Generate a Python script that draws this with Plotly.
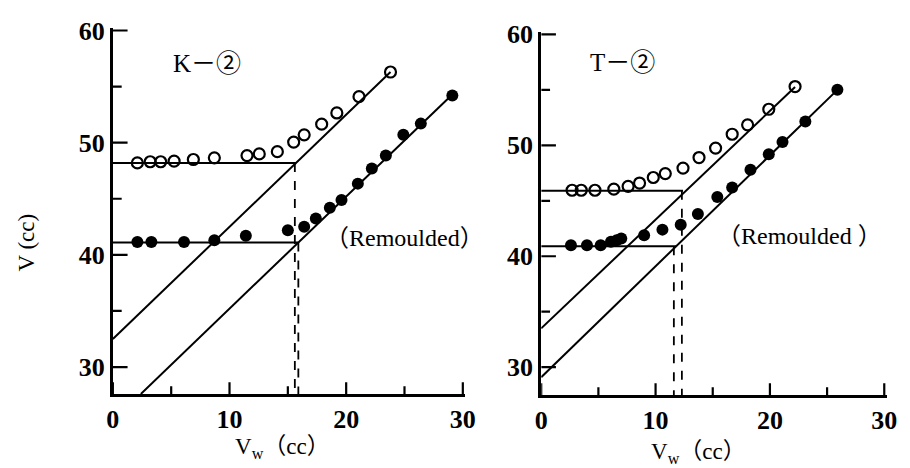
import plotly.graph_objects as go

# ---------------- data ----------------
# K-2 panel
k_open_x = [2.1, 3.2, 4.1, 5.25, 6.9, 8.7, 11.5, 12.55, 14.1, 15.5, 16.4, 17.9, 19.2, 21.1, 23.8]
k_open_y = [48.2, 48.3, 48.3, 48.35, 48.5, 48.65, 48.85, 49.0, 49.2, 50.05, 50.7, 51.65, 52.65, 54.1, 56.3]
k_fill_x = [2.1, 3.3, 6.1, 8.7, 11.4, 15.0, 16.4, 17.4, 18.6, 19.6, 21.0, 22.2, 23.4, 24.9, 26.4, 29.1]
k_fill_y = [41.15, 41.15, 41.15, 41.3, 41.7, 42.2, 42.5, 43.25, 44.2, 44.9, 46.35, 47.7, 48.85, 50.7, 51.7, 54.2]

# fitted lines (V = a + b*Vw) and horizontal levels
k_upper_level, k_upper_end = 48.2, 15.7
k_lower_level, k_lower_end = 41.1, 15.9
k_upper_fit = dict(a=32.5, b=1.0, x0=0.0, x1=23.8)
k_lower_fit = dict(a=25.2, b=1.0, x0=2.4, x1=29.3)
k_dash_x = [15.6, 15.9]
k_dash_top = [48.2, 41.1]

# T-2 panel
t_open_x = [2.7, 3.5, 4.7, 6.35, 7.6, 8.6, 9.8, 10.85, 12.4, 13.8, 15.25, 16.7, 18.05, 19.9, 22.2]
t_open_y = [45.95, 45.95, 45.95, 46.05, 46.3, 46.6, 47.1, 47.45, 47.95, 48.9, 49.75, 51.0, 51.85, 53.25, 55.3]
t_fill_x = [2.6, 4.0, 5.2, 6.1, 6.6, 7.0, 9.0, 10.6, 12.2, 13.7, 15.4, 16.7, 18.3, 19.9, 21.1, 23.1, 25.9]
t_fill_y = [41.0, 41.0, 41.0, 41.3, 41.45, 41.6, 41.9, 42.4, 42.85, 43.8, 45.35, 46.2, 47.8, 49.2, 50.3, 52.15, 55.0]

t_upper_level, t_upper_end = 45.9, 12.4
t_lower_level, t_lower_end = 40.9, 11.8
t_upper_fit = dict(a=33.5, b=0.98, x0=0.0, x1=22.2)
t_lower_fit = dict(a=29.1, b=1.0, x0=0.0, x1=25.9)
t_dash_x = [12.3, 11.6]
t_dash_top = [45.9, 40.9]

x_range = [0, 30.2]
y_range_k = [27.6, 60.2]
y_range_t = [27.5, 60.2]
x_major = [0, 10, 20, 30]
x_minor = [5, 15, 25]
y_major = [30, 40, 50, 60]
y_minor = [35, 45, 55]

# pixel layout
W, H = 910, 468
L_px_x, L_px_y = (108, 467.4), (16.7, 392)
R_px_x, R_px_y = (545, 897.3), (20.7, 393)

# ---------------- figure ----------------
fig = go.Figure()
LINE = dict(color="black", width=2)
DASH = dict(color="black", width=1.8, dash="dash")
TICK = dict(color="black", width=2.2)


def tick_traces(xa, ya, xr, yr, px_x, px_y):
    # convert tick lengths from pixels to data units for this panel
    ux = (xr[1] - xr[0]) / (px_x[1] - px_x[0])
    uy = (yr[1] - yr[0]) / (px_y[1] - px_y[0])
    xs, ys = [], []
    for vals, ln in ((x_major, 12), (x_minor, 8)):
        for v in vals:
            xs += [v, v, None]
            ys += [yr[0], yr[0] + ln * uy, None]
    for vals, ln in ((y_major, 15), (y_minor, 9)):
        for v in vals:
            xs += [xr[0], xr[0] + ln * ux, None]
            ys += [v, v, None]
    fig.add_trace(go.Scatter(x=xs, y=ys, mode="lines", line=TICK,
                             xaxis=xa, yaxis=ya, showlegend=False, hoverinfo="skip"))


def panel(xa, ya, ox, oy, fx, fy, ulev, uend, llev, lend, ufit, lfit, dx, dtop, ymin):
    fig.add_trace(go.Scatter(x=[0, uend], y=[ulev, ulev], mode="lines", line=LINE,
                             xaxis=xa, yaxis=ya, showlegend=False))
    fig.add_trace(go.Scatter(x=[0, lend], y=[llev, llev], mode="lines", line=LINE,
                             xaxis=xa, yaxis=ya, showlegend=False))
    for f in (ufit, lfit):
        xs = [f["x0"], f["x1"]]
        ys = [f["a"] + f["b"] * v for v in xs]
        fig.add_trace(go.Scatter(x=xs, y=ys, mode="lines", line=LINE,
                                 xaxis=xa, yaxis=ya, showlegend=False))
    for xv, yt in zip(dx, dtop):
        fig.add_trace(go.Scatter(x=[xv, xv], y=[yt, ymin], mode="lines", line=DASH,
                                 xaxis=xa, yaxis=ya, showlegend=False))
    fig.add_trace(go.Scatter(x=ox, y=oy, mode="markers",
                             marker=dict(symbol="circle-open", size=11, color="black",
                                         line=dict(width=2.2, color="black")),
                             xaxis=xa, yaxis=ya, showlegend=False))
    fig.add_trace(go.Scatter(x=fx, y=fy, mode="markers",
                             marker=dict(symbol="circle", size=12, color="black"),
                             xaxis=xa, yaxis=ya, showlegend=False))


panel("x", "y", k_open_x, k_open_y, k_fill_x, k_fill_y, k_upper_level, k_upper_end,
      k_lower_level, k_lower_end, k_upper_fit, k_lower_fit, k_dash_x, k_dash_top, y_range_k[0])
panel("x2", "y2", t_open_x, t_open_y, t_fill_x, t_fill_y, t_upper_level, t_upper_end,
      t_lower_level, t_lower_end, t_upper_fit, t_lower_fit, t_dash_x, t_dash_top, y_range_t[0])
tick_traces("x", "y", x_range, y_range_k, L_px_x, L_px_y)
tick_traces("x2", "y2", x_range, y_range_t, R_px_x, R_px_y)

FONT = "Liberation Serif, Noto Sans CJK JP, DejaVu Sans"
tickfont = dict(family="Liberation Serif", size=26, color="black", weight="bold")

ax_x = dict(range=x_range, tickmode="array", tickvals=x_major, ticks="",
            showline=True, linewidth=3, linecolor="black",
            showgrid=False, zeroline=False, tickfont=tickfont)
ax_y = dict(tickmode="array", tickvals=y_major, ticks="",
            showline=True, linewidth=3, linecolor="black",
            showgrid=False, zeroline=False, tickfont=tickfont)

fig.update_layout(
    width=W, height=H,
    margin=dict(l=0, r=0, t=0, b=0),
    paper_bgcolor="white", plot_bgcolor="white",
    xaxis=dict(domain=[L_px_x[0] / W, L_px_x[1] / W], anchor="y", **ax_x),
    yaxis=dict(domain=[1 - L_px_y[1] / H, 1 - L_px_y[0] / H], anchor="x", range=y_range_k, **ax_y),
    xaxis2=dict(domain=[R_px_x[0] / W, R_px_x[1] / W], anchor="y2", **ax_x),
    yaxis2=dict(domain=[1 - R_px_y[1] / H, 1 - R_px_y[0] / H], anchor="x2", range=y_range_t, **ax_y),
    font=dict(family=FONT, color="black"),
)

ann = []
ann.append(dict(text="K－②", x=5.0, y=57.1, xref="x", yref="y", xanchor="left",
                yanchor="middle", showarrow=False, font=dict(family=FONT, size=25)))
ann.append(dict(text="T－②", x=4.1, y=57.5, xref="x2", yref="y2", xanchor="left",
                yanchor="middle", showarrow=False, font=dict(family=FONT, size=25)))
ann.append(dict(text="（Remoulded）", x=18.0, y=41.5, xref="x", yref="y", xanchor="left",
                yanchor="middle", showarrow=False, font=dict(family=FONT, size=24)))
ann.append(dict(text="（Remoulded ）", x=15.2, y=41.8, xref="x2", yref="y2", xanchor="left",
                yanchor="middle", showarrow=False, font=dict(family=FONT, size=24)))
ann.append(dict(text="V (cc)", x=20 / W, y=1 - 237 / H, xref="paper", yref="paper",
                xanchor="center", yanchor="middle",
                textangle=-90, showarrow=False, font=dict(family=FONT, size=23)))
ann.append(dict(text="V<sub>w</sub>（cc）", x=281 / W, y=1 - 447 / H, xref="paper", yref="paper",
                xanchor="center", yanchor="middle",
                showarrow=False, font=dict(family=FONT, size=23)))
ann.append(dict(text="V<sub>w</sub>（cc）", x=705 / W, y=1 - 453 / H, xref="paper", yref="paper",
                xanchor="center", yanchor="middle",
                showarrow=False, font=dict(family=FONT, size=23)))
fig.update_layout(annotations=ann)

fig.write_html("out.html")
